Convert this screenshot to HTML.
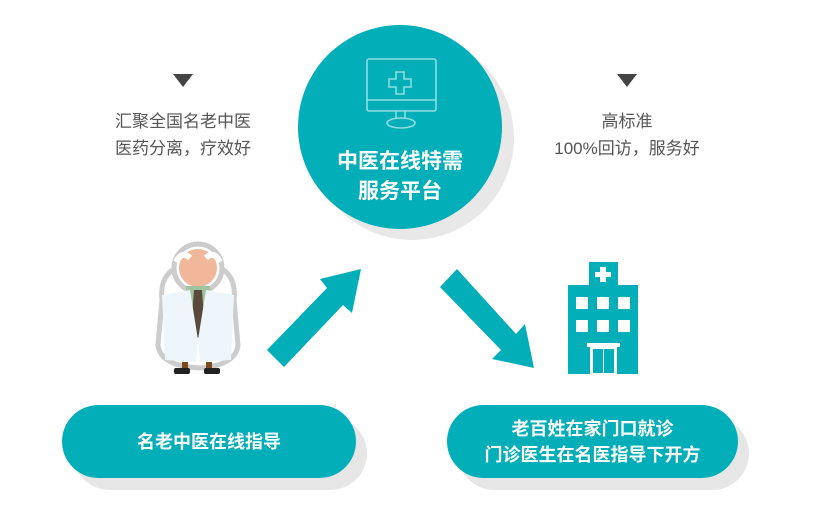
<!DOCTYPE html>
<html><head><meta charset="utf-8"><style>
body{margin:0;width:820px;height:526px;background:#fff;position:relative;overflow:hidden;font-family:"Liberation Sans","Noto Sans CJK SC",sans-serif}
.t{position:absolute;color:#555;font-size:17px;text-align:center;width:240px;line-height:27px}
.pill{position:absolute;height:73px;border-radius:37px;background:#02aeb8;color:#fff;font-size:18px;display:flex;align-items:center;justify-content:center;text-align:center;line-height:26px;font-weight:bold}
.sh{position:absolute;height:73px;border-radius:37px;background:#e6e6e6}
</style></head><body>
<svg width="820" height="526" style="position:absolute;left:0;top:0">
<circle cx="412" cy="138" r="102" fill="#e8e8e8"/>
<circle cx="400" cy="127" r="102" fill="#02aeb8"/>
<g stroke="#8fdde2" stroke-width="1.6" fill="none">
<rect x="367" y="59" width="69" height="52" rx="2"/>
<line x1="367" y1="100" x2="436" y2="100"/>
<path d="M396,72h8v7h7v8h-7v7h-8v-7h-7v-8h7z"/>
<path d="M396,111v8M405,111v8"/>
<ellipse cx="401" cy="123" rx="14" ry="5"/>
</g>
<polygon points="173,74 193,74 183,87" fill="#444"/>
<polygon points="617,74 637,74 627,87" fill="#444"/>
<polygon points="267,350 284,367 343,305 352,313 361,269 320,279 327,288" fill="#02aeb8"/>
<polygon points="440,287 457,269 516,334 525,324 534,368 492,359 501,350" fill="#02aeb8"/>
<!-- hospital -->
<rect x="589" y="262" width="29" height="24" fill="#02aeb8"/>
<path d="M600,267h6v5h5v5h-5v5h-6v-5h-5v-5h5z" fill="#fff"/>
<rect x="568" y="285" width="70" height="89" fill="#02aeb8"/>
<g fill="#fff">
<rect x="576" y="297" width="12" height="12"/><rect x="597" y="297" width="12" height="12"/><rect x="618" y="297" width="12" height="12"/>
<rect x="576" y="320" width="12" height="12"/><rect x="597" y="320" width="12" height="12"/><rect x="618" y="320" width="12" height="12"/>
<rect x="587" y="343" width="33" height="4"/>
<rect x="590" y="347" width="27" height="27"/>
</g>
<rect x="593" y="349" width="10" height="24" fill="#02aeb8"/><rect x="604" y="349" width="10" height="24" fill="#02aeb8"/>
<!-- doctor -->
<g>
<path d="M162,300 Q158,265 198,262 Q238,265 234,300 L238,345 Q236,365 200,368 Q160,366 158,345 Z" fill="#fff" stroke="#ccc" stroke-width="5"/>
<circle cx="198" cy="268" r="24" fill="#fff" stroke="#ccc" stroke-width="5"/>
<circle cx="198" cy="268" r="19" fill="#f0b79a"/>
<path d="M176,262 q6,-12 14,-4 M220,262 q-6,-12 -14,-4" stroke="#fff" stroke-width="6" fill="none"/>
<rect x="186" y="286" width="24" height="30" fill="#9fc29f"/>
<path d="M194,290 L202,290 L205,330 L198,338 L191,330 Z" fill="#5a4a3e"/>
<path d="M162,295 L190,290 L198,340 L196,362 L165,360 Z M234,295 L206,290 L198,340 L200,362 L231,360 Z" fill="#eef6fb"/>
<rect x="182" y="362" width="6" height="8" fill="#7a4a1e"/><rect x="206" y="362" width="6" height="8" fill="#7a4a1e"/>
<rect x="174" y="368" width="16" height="6" rx="2" fill="#222"/><rect x="204" y="368" width="16" height="6" rx="2" fill="#222"/>
</g>
</svg>
<div class="t" style="left:63px;top:108px">汇聚全国名老中医<br>医药分离，疗效好</div>
<div class="t" style="left:507px;top:108px">高标准<br>100%回访，服务好</div>
<div style="position:absolute;left:300px;top:147px;width:200px;text-align:center;color:#fff;font-size:21px;line-height:30px;font-weight:bold">中医在线特需<br>服务平台</div>
<div class="sh" style="left:73px;top:417px;width:294px"></div>
<div class="pill" style="left:62px;top:405px;width:294px">名老中医在线指导</div>
<div class="sh" style="left:458px;top:417px;width:291px"></div>
<div class="pill" style="left:447px;top:405px;width:291px">老百姓在家门口就诊<br>门诊医生在名医指导下开方</div>
</body></html>
